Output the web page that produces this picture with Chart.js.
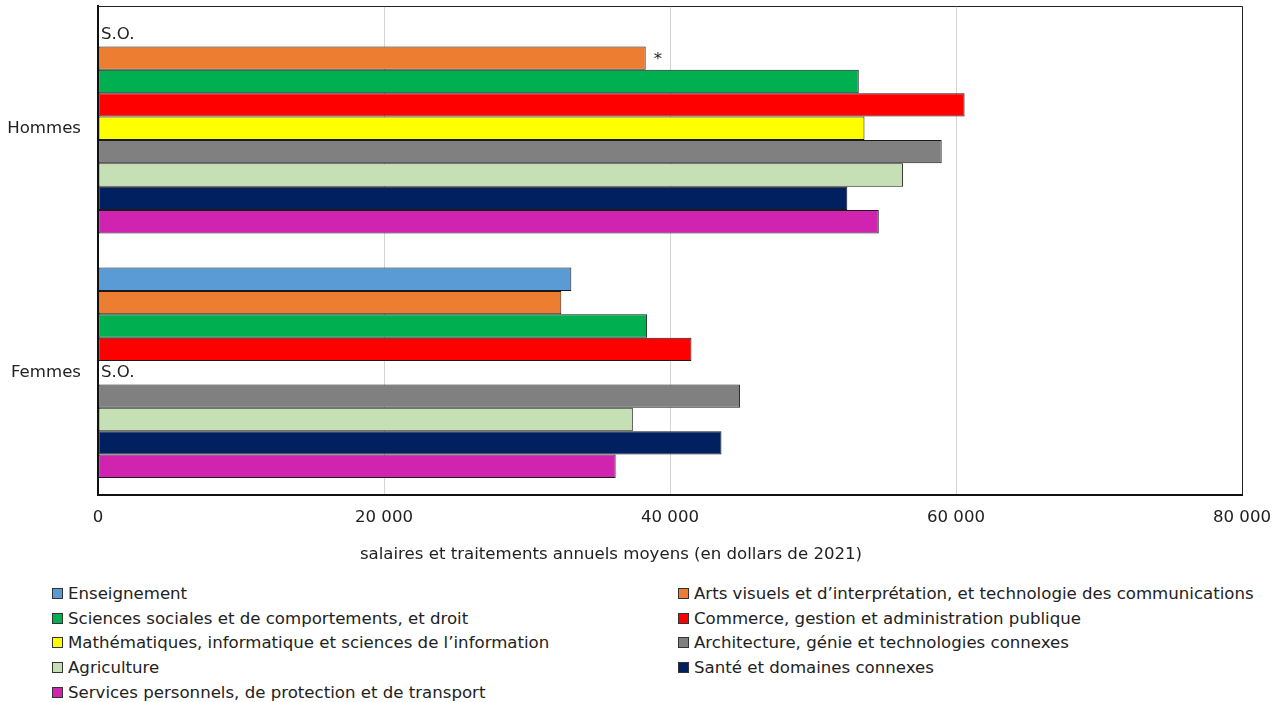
<!DOCTYPE html>
<html lang="fr">
<head>
<meta charset="utf-8">
<title>Salaires et traitements annuels moyens</title>
<script src="https://cdn.jsdelivr.net/npm/chart.js@4/dist/chart.umd.min.js"></script>
<style>
  body { margin: 0; background: #fff; font-family: "DejaVu Sans", Verdana, sans-serif; }
  #wrap { position: relative; width: 1279px; height: 702px; }
  #chartBox { position: absolute; left: 0; top: 0; width: 1279px; height: 575px; }
  #legend {
    position: absolute; top: 581px; left: 52px; width: 1227px;
    display: grid; grid-template-columns: 626px auto;
    font-size: 16.6px; color: #222;
  }
  #legend .item { display: flex; align-items: center; height: 24.7px; white-space: nowrap; }
  #legend .box { width: 9px; height: 9px; border: 1px solid #333; margin-right: 5px; }
</style>
</head>
<body>
<div id="wrap">
  <div id="chartBox"><canvas id="myChart"></canvas></div>
  <div id="legend"></div>
</div>
<script>
const groups = ['Hommes', 'Femmes'];

const fields = [
  'Enseignement',
  'Arts visuels et d\u2019interprétation, et technologie des communications',
  'Sciences sociales et de comportements, et droit',
  'Commerce, gestion et administration publique',
  'Mathématiques, informatique et sciences de l\u2019information',
  'Architecture, génie et technologies connexes',
  'Agriculture',
  'Santé et domaines connexes',
  'Services personnels, de protection et de transport'
];

const colors = ['#5B9BD5', '#ED7D31', '#00B050', '#FF0000', '#FFFF00', '#808080', '#C5E0B4', '#002060', '#D023B0'];

// null = sans objet (S.O.)
const hommes = [null, 38300, 53200, 60600, 53600, 59000, 56300, 52400, 54600];
const femmes = [33100, 32400, 38400, 41500, null, 44900, 37400, 43600, 36200];

// marque « à utiliser avec prudence »
const hommesFlags = ['', '*', '', '', '', '', '', '', ''];
const femmesFlags = ['', '', '', '', '', '', '', '', ''];

const xTicks = [0, 20000, 40000, 60000, 80000];
const naText = 'S.O.';
const xTitle = 'salaires et traitements annuels moyens (en dollars de 2021)';
const font = '"DejaVu Sans", Verdana, sans-serif';
const fontSize = 16.6;

const datasets = fields.map((f, i) => ({
  label: f,
  data: [hommes[i], femmes[i]],
  flags: [hommesFlags[i], femmesFlags[i]],
  backgroundColor: colors[i],
  borderColor: '#1a1a1a',
  borderWidth: 1,
  borderSkipped: false,
  categoryPercentage: 0.86,
  barPercentage: 1.0
}));

// top and right edges of the plot frame
const frame = {
  id: 'frame',
  afterDatasetsDraw(chart) {
    const { ctx, chartArea: a } = chart;
    ctx.save();
    ctx.strokeStyle = '#222';
    ctx.lineWidth = 1;
    ctx.beginPath();
    ctx.moveTo(a.left, a.top + 0.5);
    ctx.lineTo(a.right + 0.5, a.top + 0.5);
    ctx.lineTo(a.right + 0.5, a.bottom);
    ctx.stroke();
    ctx.restore();
  }
};

// S.O. for missing values, asterisk after flagged bars, axis title
const notes = {
  id: 'notes',
  afterDatasetsDraw(chart) {
    const { ctx } = chart;
    ctx.save();
    ctx.font = fontSize + 'px ' + font;
    ctx.fillStyle = '#222';
    ctx.textBaseline = 'middle';
    ctx.textAlign = 'left';
    chart.data.datasets.forEach((ds, di) => {
      const meta = chart.getDatasetMeta(di);
      meta.data.forEach((bar, j) => {
        if (ds.data[j] === null) {
          ctx.fillText(naText, bar.base + 3, bar.y);
        } else if (ds.flags[j]) {
          ctx.fillText(ds.flags[j], bar.x + 8, bar.y + 2);
        }
      });
    });
    ctx.textAlign = 'center';
    ctx.fillText(xTitle, 611, chart.scales.x.bottom - 20);
    ctx.restore();
  }
};

const chart = new Chart(document.getElementById('myChart'), {
  type: 'bar',
  data: { labels: groups, datasets: datasets },
  options: {
    indexAxis: 'y',
    responsive: true,
    maintainAspectRatio: false,
    animation: false,
    layout: { padding: { top: 6, right: 37, left: 0, bottom: 0 } },
    plugins: { legend: { display: false }, tooltip: { enabled: false } },
    scales: {
      x: {
        min: 0,
        max: 80000,
        afterBuildTicks: s => { s.ticks = xTicks.map(v => ({ value: v })); },
        afterFit: s => {
          s.height = 80;
          s.paddingLeft = 0;
          s.paddingRight = 0;
        },
        grid: {
          color: c => (c.tick && c.tick.value > 0 && c.tick.value < 80000) ? '#d4d4d4' : 'transparent',
          drawTicks: false
        },
        border: { color: '#111', width: 2 },
        ticks: {
          padding: 13,
          color: '#222',
          font: { family: font, size: fontSize },
          callback: v => v === 0 ? '0' : v.toLocaleString('fr-CA').replace(/\s/g, ' ')
        }
      },
      y: {
        afterFit: s => {
          s.width = 98;
          s.paddingTop = 0;
          s.paddingBottom = 0;
        },
        grid: { display: false },
        border: { color: '#111', width: 2 },
        ticks: { padding: 9, color: '#222', font: { family: font, size: fontSize } }
      }
    }
  },
  plugins: [frame, notes]
});

// legend in two columns, built from the datasets
const legend = document.getElementById('legend');
chart.data.datasets.forEach(ds => {
  const item = document.createElement('div');
  item.className = 'item';
  const box = document.createElement('span');
  box.className = 'box';
  box.style.background = ds.backgroundColor;
  item.appendChild(box);
  item.appendChild(document.createTextNode(ds.label));
  legend.appendChild(item);
});
</script>
</body>
</html>
